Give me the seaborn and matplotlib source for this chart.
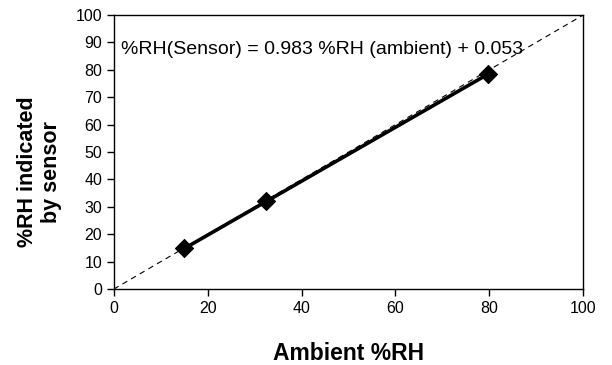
import numpy as np
import pandas as pd
import matplotlib
matplotlib.use("Agg")
import matplotlib.pyplot as plt
import seaborn as sns

ambient = [15.0, 32.4, 79.8]
sensor = [15.0, 32.0, 78.5]
slope = 0.983
intercept = 0.053
xticks = [0, 20, 40, 60, 80, 100]
yticks = [0, 10, 20, 30, 40, 50, 60, 70, 80, 90, 100]

sns.set_theme(style="white")
plt.rcParams['font.family'] = ['Liberation Sans', 'DejaVu Sans']
plt.rcParams['text.color'] = 'black'
plt.rcParams['axes.labelcolor'] = 'black'

fig = plt.figure(figsize=(6.12, 3.65), dpi=100)
ax = fig.add_axes([0.186, 0.208, 0.767, 0.751])

# 1:1 dashed reference
ref = pd.DataFrame({"x": [0, 100], "y": [0, 100]})
sns.lineplot(data=ref, x="x", y="y", ax=ax, color="black", linewidth=0.8,
             linestyle=(0, (5, 4)))

# fitted line
fx = np.array([min(ambient), max(ambient)])
fit = pd.DataFrame({"x": fx, "y": slope * fx + intercept})
sns.lineplot(data=fit, x="x", y="y", ax=ax, color="black", linewidth=2.6)

df = pd.DataFrame({"ambient": ambient, "sensor": sensor})
sns.scatterplot(data=df, x="ambient", y="sensor", ax=ax, marker="D", s=85,
                color="black", edgecolor="black", zorder=5)

ax.set_xlim(0, 100)
ax.set_ylim(0, 100)
ax.set_xticks(xticks)
ax.set_yticks(yticks)
ax.tick_params(axis="both", direction="out", length=5, width=1, labelsize=11.5,
               colors="black", bottom=True, left=True)
for s in ax.spines.values():
    s.set_color("black")
    s.set_linewidth(1.0)

ax.set_xlabel("Ambient %RH", fontsize=16.5, fontweight="bold", labelpad=19,
              color="black")
ax.set_ylabel("%RH indicated\nby sensor", fontsize=15.5, fontweight="bold",
              color="black")
ax.yaxis.set_label_coords(-0.111, 0.427)

ax.text(1.5, 87.5, "%RH(Sensor) = 0.983 %RH (ambient) + 0.053", fontsize=14.0,
        ha="left", va="center", color="black")

fig.savefig("out.png", dpi=100)
